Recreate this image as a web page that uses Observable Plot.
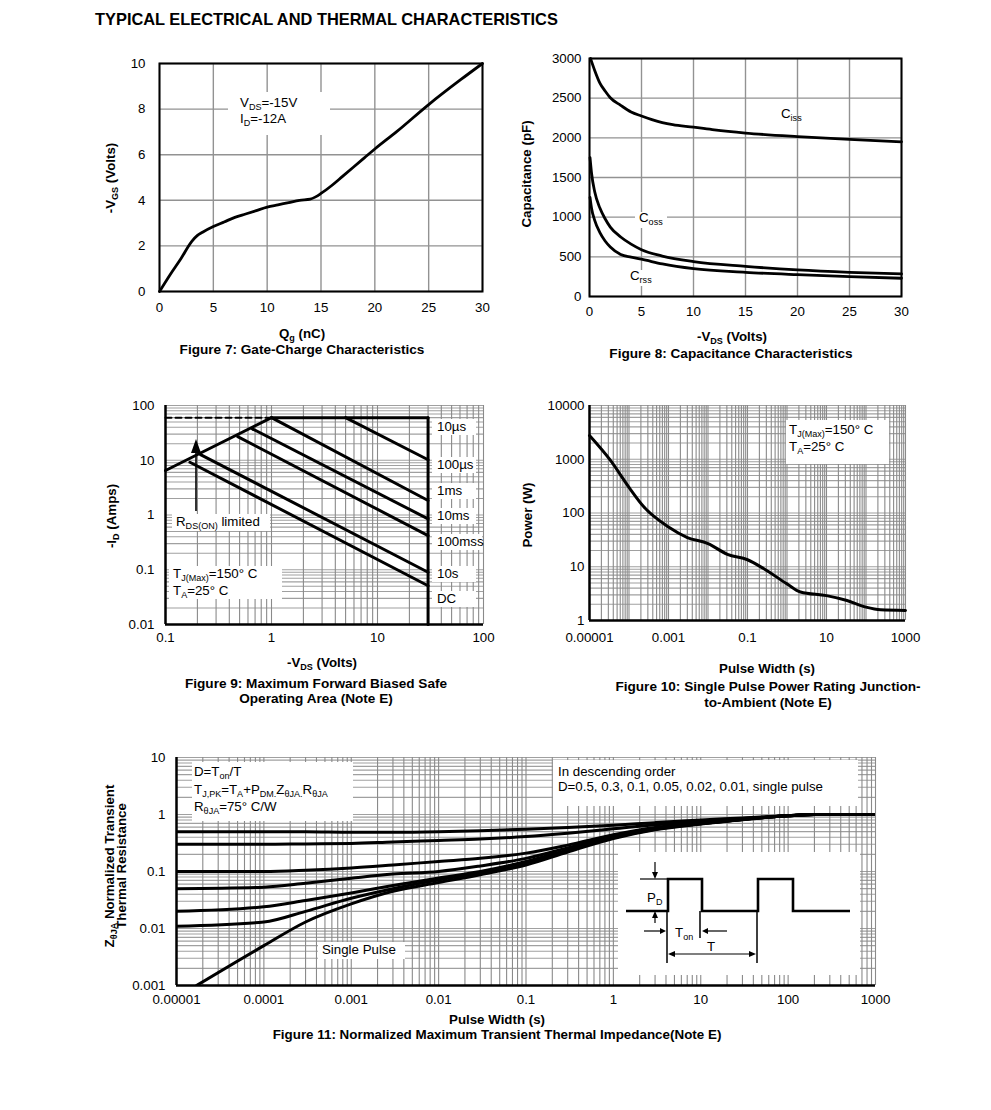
<!DOCTYPE html>
<html><head><meta charset="utf-8">
<script src="https://cdn.jsdelivr.net/npm/d3@7"></script>
<script src="https://cdn.jsdelivr.net/npm/@observablehq/plot@0.6"></script>
<style>
body{margin:0;background:#fff;}
#page{position:relative;width:991px;height:1110px;font-family:"Liberation Sans",Arial,Helvetica,sans-serif;color:#000;overflow:hidden;background:#fff;}
.abs{position:absolute;white-space:nowrap;line-height:1;}
.box{position:absolute;background:#fff;}
.s{font-size:0.68em;position:relative;top:0.32em;}
</style>
</head><body><div id="page"></div>
<script>
// ---------------- DATA ----------------
// Figure 7: Gate charge
const fig7Qg  = [0,1,2,3,3.5,4,5,6,7,8,9,10,11,12,13,14,14.5,15,16,17,18,19,20,22,25,28,30];
const fig7Vgs = [0,0.75,1.45,2.2,2.45,2.6,2.85,3.05,3.25,3.4,3.55,3.7,3.8,3.9,4.0,4.05,4.15,4.3,4.65,5.05,5.45,5.85,6.25,7.0,8.2,9.3,10.0];
const fig7XTicks = [0,5,10,15,20,25,30];
const fig7YTicks = [0,2,4,6,8,10];

// Figure 8: Capacitance
const fig8VdsIn  = [0.1,0.5,1,1.5,2,3,4,5,6,7,8,10,12,15,20,25,30];
const fig8Ciss   = [3000,2850,2690,2590,2505,2410,2325,2275,2230,2192,2165,2135,2100,2060,2015,1980,1950];
const fig8VdsOut = [0.05,0.2,0.5,1,1.5,2,3,4,5,7,10,15,20,25,30];
const fig8Coss   = [1750,1550,1320,1115,980,875,750,660,590,510,440,380,335,305,285];
const fig8Crss   = [1250,1110,960,805,700,625,530,495,470,410,350,305,275,250,230];
const fig8XTicks = [0,5,10,15,20,25,30];
const fig8YTicks = [0,500,1000,1500,2000,2500,3000];

// Figure 9: Safe operating area (segments: [x1,y1,x2,y2])
const fig9RdsLimit   = [0.1, 6.5, 1, 60];
const fig9CurrentMax = [1, 60, 30, 60];
const fig9Dashed     = [0.1, 60, 1, 60];
const fig9VdsMax     = [30, 0.01, 30, 60];
const fig9PulseNames = ["10µs","100µs","1ms","10ms","100ms","10s"];
const fig9PulseStartV = [5, 1, 0.66, 0.48, 0.214, 0.17];
const fig9PulseStartI = [60, 60, 37.5, 27, 12.7, 9.2];
const fig9PulseEndV   = [30, 30, 30, 30, 30, 30];
const fig9PulseEndI   = [10.2, 1.84, 0.85, 0.42, 0.09, 0.051];
const fig9RightLabels = ["10µs","100µs","1ms","10ms","100mss","10s","DC"];
const fig9XTicks = [0.1,1,10,100];
const fig9YTicks = [0.01,0.1,1,10,100];

// Figure 10: Single pulse power
const fig10Width = [1e-5,3.4e-5,1e-4,2.4e-4,1e-3,3e-3,1e-2,3.1e-2,0.1,0.26,1,2.2,10,33,100,234,1000];
const fig10Power = [2760,950,300,129,55,35,27,17,13.5,9.2,4.8,3.4,2.9,2.35,1.77,1.58,1.54];
const fig10XTicks = [1e-5,1e-3,0.1,10,1000];
const fig10YTicks = [1,10,100,1000,10000];

// Figure 11: Normalized transient thermal impedance
const fig11Width  = [1e-5,1e-4,3e-4,1e-3,3e-3,0.01,0.03,0.1,0.3,1,3,10,30,100,200,1000];
const fig11D05  = [0.50,0.50,0.50,0.49,0.49,0.50,0.52,0.55,0.59,0.65,0.72,0.80,0.87,0.96,1.00,1.00];
const fig11D03  = [0.30,0.30,0.305,0.31,0.33,0.35,0.37,0.41,0.47,0.56,0.66,0.76,0.85,0.95,1.00,1.00];
const fig11D01  = [0.10,0.10,0.105,0.115,0.13,0.15,0.17,0.21,0.29,0.44,0.59,0.71,0.83,0.95,1.00,1.00];
const fig11D005 = [0.05,0.053,0.062,0.076,0.09,0.10,0.125,0.17,0.26,0.41,0.57,0.70,0.82,0.95,1.00,1.00];
const fig11D002 = [0.020,0.024,0.031,0.042,0.057,0.077,0.10,0.15,0.24,0.40,0.56,0.69,0.82,0.95,1.00,1.00];
const fig11D001 = [0.011,0.013,0.02,0.034,0.05,0.071,0.095,0.14,0.23,0.39,0.55,0.69,0.82,0.95,1.00,1.00];
const fig11SingleWidth = [1.7e-5,1e-4,3e-4,1e-3,3e-3,0.01,0.03,0.1,0.3,1,3,10,30,100,200,1000];
const fig11Single      = [0.001,0.005,0.013,0.027,0.045,0.064,0.088,0.13,0.22,0.38,0.54,0.68,0.81,0.95,1.00,1.00];
const fig11XTicks = [1e-5,1e-4,1e-3,0.01,0.1,1,10,100,1000];
const fig11YTicks = [0.001,0.01,0.1,1,10];

// ---------------- HELPERS ----------------
const page = document.getElementById("page");
const FONT = '"Liberation Sans", Arial, Helvetica, sans-serif';
const FS = 13.3;
const GRID = "#929292";
const VGRID = "#8a8a8a";
const HGRID = "#a0a0a0";

function mount(el, left, top) {
  el.style.position = "absolute";
  el.style.left = left + "px";
  el.style.top = top + "px";
  el.style.maxWidth = "none";
  page.appendChild(el);
}
function txt(html, x, y, {anchor = "start", size = FS, bold = false, rotate = false, align = "left", lh = 1} = {}) {
  const d = document.createElement("div");
  d.className = "abs";
  d.innerHTML = html;
  d.style.left = x + "px";
  d.style.top = y + "px";
  d.style.fontSize = size + "px";
  d.style.lineHeight = lh;
  d.style.textAlign = align;
  if (bold) d.style.fontWeight = "bold";
  const tx = anchor === "middle" ? "-50%" : anchor === "end" ? "-100%" : "0";
  d.style.transform = `translate(${tx},-50%)` + (rotate ? " rotate(-90deg)" : "");
  page.appendChild(d);
  return d;
}
function box(x1, y1, x2, y2) {
  const d = document.createElement("div");
  d.className = "box";
  d.style.left = x1 + "px"; d.style.top = y1 + "px";
  d.style.width = (x2 - x1) + "px"; d.style.height = (y2 - y1) + "px";
  page.appendChild(d);
}
function logGrid(lo, hi) {
  const out = [];
  for (let e = lo; e < hi; e++) for (let k = 1; k < 10; k++) out.push(+(k * 10 ** e).toPrecision(6));
  out.push(10 ** hi);
  return out;
}
const pts = (xs, ys) => xs.map((x, i) => ({x, y: ys[i]}));
const seg = (s) => [{x: s[0], y: s[1]}, {x: s[2], y: s[3]}];
const baseStyle = {fontFamily: FONT, fontSize: FS + "px", background: "transparent", overflow: "visible", color: "#000"};

function xLabels(ticks, dy) {
  return Plot.text(ticks, {x: d => d, frameAnchor: "bottom", dy, text: d => String(d), fontSize: FS, fill: "#000"});
}
function yLabels(ticks, dx) {
  return Plot.text(ticks, {y: d => d, frameAnchor: "left", dx, textAnchor: "end", text: d => String(d), fontSize: FS, fill: "#000"});
}

// ---------------- TITLE ----------------
txt("TYPICAL ELECTRICAL AND THERMAL CHARACTERISTICS", 95, 19, {bold: true, size: 16.4});

// ---------------- FIGURE 7 ----------------
{
  const mL = 60, mR = 20, mT = 15, mB = 30;
  const p = Plot.plot({
    width: 323 + mL + mR, height: 228 + mT + mB,
    marginLeft: mL, marginRight: mR, marginTop: mT, marginBottom: mB,
    style: baseStyle,
    x: {domain: [0, 30], axis: null},
    y: {domain: [0, 10], axis: null},
    marks: [
      Plot.ruleX(fig7XTicks, {stroke: GRID, strokeWidth: 1.4}),
      Plot.ruleY(fig7YTicks, {stroke: GRID, strokeWidth: 1.4}),
      Plot.frame({stroke: "#000", strokeWidth: 2}),
      Plot.line(pts(fig7Qg, fig7Vgs), {x: "x", y: "y", stroke: "#000", strokeWidth: 2.8, curve: "monotone-x"}),
      xLabels(fig7XTicks, 20),
      yLabels(fig7YTicks, -14)
    ]
  });
  mount(p, 159 - mL, 63 - mT);
  box(228, 92, 330, 135);
  txt("V<span class='s'>DS</span>=-15V", 240, 103);
  txt("I<span class='s'>D</span>=-12A", 240, 119);
  txt("-V<span class='s'>GS</span> (Volts)", 111, 178, {anchor: "middle", bold: true, rotate: true});
  txt("Q<span class='s'>g</span> (nC)", 302, 334, {anchor: "middle", bold: true});
  txt("Figure 7: Gate-Charge Characteristics", 302, 350, {anchor: "middle", bold: true, size: 13.6});
}

// ---------------- FIGURE 8 ----------------
{
  const mL = 60, mR = 20, mT = 15, mB = 30;
  const p = Plot.plot({
    width: 312 + mL + mR, height: 238 + mT + mB,
    marginLeft: mL, marginRight: mR, marginTop: mT, marginBottom: mB,
    style: baseStyle,
    x: {domain: [0, 30], axis: null},
    y: {domain: [0, 3000], axis: null},
    marks: [
      Plot.ruleX(fig8XTicks, {stroke: GRID, strokeWidth: 1.4}),
      Plot.ruleY(fig8YTicks, {stroke: GRID, strokeWidth: 1.4}),
      Plot.frame({stroke: "#000", strokeWidth: 2}),
      Plot.line(pts(fig8VdsIn, fig8Ciss), {x: "x", y: "y", stroke: "#000", strokeWidth: 2.8, curve: "monotone-x"}),
      Plot.line(pts(fig8VdsOut, fig8Coss), {x: "x", y: "y", stroke: "#000", strokeWidth: 2.8, curve: "monotone-x"}),
      Plot.line(pts(fig8VdsOut, fig8Crss), {x: "x", y: "y", stroke: "#000", strokeWidth: 2.8, curve: "monotone-x"}),
      xLabels(fig8XTicks, 19),
      yLabels(fig8YTicks, -8)
    ]
  });
  mount(p, 589 - mL, 58 - mT);
  txt("C<span class='s'>iss</span>", 781, 114);
  box(635, 212, 667, 228);
  txt("C<span class='s'>oss</span>", 639, 218);
  box(627, 270, 656, 286);
  txt("C<span class='s'>rss</span>", 630, 276);
  txt("Capacitance (pF)", 527, 174, {anchor: "middle", bold: true, rotate: true});
  txt("-V<span class='s'>DS</span> (Volts)", 732, 337, {anchor: "middle", bold: true});
  txt("Figure 8: Capacitance Characteristics", 731, 354, {anchor: "middle", bold: true, size: 13.6});
}

// ---------------- FIGURE 9 ----------------
{
  const mL = 60, mR = 20, mT = 15, mB = 30;
  const pulses = fig9PulseNames.map((n, i) => [
    {name: n, x: fig9PulseStartV[i], y: fig9PulseStartI[i]},
    {name: n, x: fig9PulseEndV[i], y: fig9PulseEndI[i]}
  ]).flat();
  const p = Plot.plot({
    width: 318 + mL + mR, height: 219 + mT + mB,
    marginLeft: mL, marginRight: mR, marginTop: mT, marginBottom: mB,
    style: baseStyle,
    x: {type: "log", domain: [0.1, 100], axis: null},
    y: {type: "log", domain: [0.01, 100], axis: null},
    marks: [
      Plot.ruleY(logGrid(-2, 2), {stroke: HGRID, strokeWidth: 1.1}),
      Plot.ruleX(logGrid(-1, 2), {stroke: VGRID, strokeWidth: 1.1}),
      Plot.ruleX([0.1], {stroke: "#000", strokeWidth: 2.5}),
      Plot.ruleY([0.01], {stroke: "#000", strokeWidth: 2.5}),
      Plot.line(seg(fig9Dashed), {x: "x", y: "y", stroke: "#000", strokeWidth: 2, strokeDasharray: "6,4"}),
      Plot.line(seg(fig9RdsLimit), {x: "x", y: "y", stroke: "#000", strokeWidth: 3}),
      Plot.line(seg(fig9CurrentMax), {x: "x", y: "y", stroke: "#000", strokeWidth: 3}),
      Plot.line(seg(fig9VdsMax), {x: "x", y: "y", stroke: "#000", strokeWidth: 3}),
      Plot.line(pulses, {x: "x", y: "y", z: "name", stroke: "#000", strokeWidth: 3}),
      xLabels(fig9XTicks, 17),
      yLabels(fig9YTicks, -11)
    ]
  });
  mount(p, 165 - mL, 405 - mT);
  const labelY = [427, 465, 491, 516, 542, 574, 599];
  fig9RightLabels.forEach((t, i) => {
    box(432, labelY[i] - 8, 476 + (t.length > 5 ? 6 : 0), labelY[i] + 8);
    txt(t, 437, labelY[i]);
  });
  box(172, 514, 270, 531);
  txt("R<span class='s'>DS(ON)</span> limited", 176, 522);
  // arrow annotation
  const ns = "http://www.w3.org/2000/svg";
  const a = document.createElementNS(ns, "svg");
  a.setAttribute("width", "20"); a.setAttribute("height", "80");
  a.innerHTML = '<path d="M10,74V14" stroke="#000" stroke-width="1.6"/><polygon points="5,16 15,16 10,2" fill="#000"/>';
  mount(a, 186, 437);
  box(169, 566, 282, 599);
  txt("T<span class='s'>J(Max)</span>=150°  C", 173, 574);
  txt("T<span class='s'>A</span>=25°  C", 173, 591);
  txt("-I<span class='s'>D</span> (Amps)", 112, 516, {anchor: "middle", bold: true, rotate: true});
  txt("-V<span class='s'>DS</span> (Volts)", 322, 663, {anchor: "middle", bold: true});
  txt("Figure 9: Maximum Forward Biased Safe", 316, 684, {anchor: "middle", bold: true, size: 13.6});
  txt("Operating Area (Note E)", 316, 699, {anchor: "middle", bold: true, size: 13.6});
}

// ---------------- FIGURE 10 ----------------
{
  const mL = 60, mR = 20, mT = 15, mB = 30;
  const p = Plot.plot({
    width: 316 + mL + mR, height: 215 + mT + mB,
    marginLeft: mL, marginRight: mR, marginTop: mT, marginBottom: mB,
    style: baseStyle,
    x: {type: "log", domain: [1e-5, 1000], axis: null},
    y: {type: "log", domain: [1, 10000], axis: null},
    marks: [
      Plot.ruleY(logGrid(0, 4), {stroke: HGRID, strokeWidth: 1.1}),
      Plot.ruleX(logGrid(-5, 3), {stroke: VGRID, strokeWidth: 1.1}),
      Plot.ruleX([1e-5], {stroke: "#000", strokeWidth: 2.5}),
      Plot.ruleY([1], {stroke: "#000", strokeWidth: 2.5}),
      Plot.line(pts(fig10Width, fig10Power), {x: "x", y: "y", stroke: "#000", strokeWidth: 3, curve: "monotone-x"}),
      xLabels(fig10XTicks, 21),
      yLabels(fig10YTicks, -5)
    ]
  });
  mount(p, 589 - mL, 405 - mT);
  box(786, 420, 889, 464);
  txt("T<span class='s'>J(Max)</span>=150°  C", 789, 430);
  txt("T<span class='s'>A</span>=25°  C", 789, 447);
  txt("Power (W)", 528, 515, {anchor: "middle", bold: true, rotate: true});
  txt("Pulse Width (s)", 767, 669, {anchor: "middle", bold: true});
  txt("Figure 10: Single Pulse Power Rating Junction-", 768, 687, {anchor: "middle", bold: true, size: 13.6});
  txt("to-Ambient (Note E)", 768, 703, {anchor: "middle", bold: true, size: 13.6});
}

// ---------------- FIGURE 11 ----------------
{
  const mL = 60, mR = 20, mT = 15, mB = 30;
  const series = [
    ["0.5", fig11Width, fig11D05], ["0.3", fig11Width, fig11D03], ["0.1", fig11Width, fig11D01],
    ["0.05", fig11Width, fig11D005], ["0.02", fig11Width, fig11D002], ["0.01", fig11Width, fig11D001],
    ["single", fig11SingleWidth, fig11Single]
  ].flatMap(([d, xs, ys]) => xs.map((x, i) => ({d, x, y: ys[i]})));
  const p = Plot.plot({
    width: 699 + mL + mR, height: 228 + mT + mB,
    marginLeft: mL, marginRight: mR, marginTop: mT, marginBottom: mB,
    style: baseStyle,
    x: {type: "log", domain: [1e-5, 1000], axis: null},
    y: {type: "log", domain: [0.001, 10], axis: null},
    marks: [
      Plot.ruleY(logGrid(-3, 1), {stroke: HGRID, strokeWidth: 1.1}),
      Plot.ruleX(logGrid(-5, 3), {stroke: VGRID, strokeWidth: 1.1}),
      Plot.ruleX([1e-5], {stroke: "#000", strokeWidth: 2.5}),
      Plot.ruleY([0.001], {stroke: "#000", strokeWidth: 2.5}),
      Plot.line(series, {x: "x", y: "y", z: "d", stroke: "#000", strokeWidth: 3, curve: "monotone-x", clip: true}),
      xLabels(fig11XTicks, 18),
      yLabels(fig11YTicks, -11)
    ]
  });
  mount(p, 176 - mL, 757 - mT);
  box(192, 762, 353, 821);
  txt("D=T<span class='s'>on</span>/T", 194, 772);
  txt("T<span class='s'>J,PK</span>=T<span class='s'>A</span>+P<span class='s'>DM.</span>Z<span class='s'>θJA.</span>R<span class='s'>θJA</span>", 194, 790);
  txt("R<span class='s'>θJA</span>=75°  C/W", 194, 807);
  box(553, 760, 858, 806);
  txt("In descending order", 558, 772);
  txt("D=0.5, 0.3, 0.1, 0.05, 0.02, 0.01, single pulse", 558, 787);
  box(318, 942, 405, 959);
  txt("Single Pulse", 322, 950);
  // pulse waveform inset
  const ns = "http://www.w3.org/2000/svg";
  const s = document.createElementNS(ns, "svg");
  s.setAttribute("width", "242"); s.setAttribute("height", "123");
  s.innerHTML =
    '<rect width="242" height="123" fill="#fff"/>' +
    '<path d="M8,59H50V27H84V59H140V27H175V59H232" fill="none" stroke="#000" stroke-width="2.6"/>' +
    '<path d="M22,27H50" stroke="#000" stroke-width="1.2"/>' +
    '<path d="M49,59V111M82,59V86M139,59V111" stroke="#000" stroke-width="1.5"/>' +
    '<path d="M37,10V21" stroke="#000" stroke-width="1.2"/><polygon points="34,20 40,20 37,27" fill="#000"/>' +
    '<path d="M37,71V65" stroke="#000" stroke-width="1.2"/><polygon points="34,66 40,66 37,59" fill="#000"/>' +
    '<path d="M26,79H43" stroke="#000" stroke-width="1.2"/><polygon points="42,76 42,82 48,79" fill="#000"/>' +
    '<path d="M109,79H90" stroke="#000" stroke-width="1.2"/><polygon points="90,76 90,82 84,79" fill="#000"/>' +
    '<path d="M56,102H132" stroke="#000" stroke-width="1.2"/><polygon points="57,99 57,105 50,102" fill="#000"/><polygon points="131,99 131,105 138,102" fill="#000"/>' +
    `<text x="29" y="50" font-size="13.3" font-family='${FONT}'>P<tspan font-size="9" dy="3">D</tspan></text>` +
    `<text x="57" y="85" font-size="13.3" font-family='${FONT}'>T<tspan font-size="9" dy="3">on</tspan></text>` +
    `<text x="89" y="99" font-size="13.3" font-family='${FONT}'>T</text>`;
  mount(s, 618, 852);
  txt("Z<span class='s'>θJA</span> Normalized Transient<br>Thermal Resistance", 116, 866, {anchor: "middle", bold: true, rotate: true, align: "center", lh: 0.92});
  txt("Pulse Width (s)", 497, 1020, {anchor: "middle", bold: true});
  txt("Figure 11: Normalized Maximum Transient Thermal Impedance(Note E)", 497, 1035, {anchor: "middle", bold: true, size: 13.4});
}
</script>
</body></html>
